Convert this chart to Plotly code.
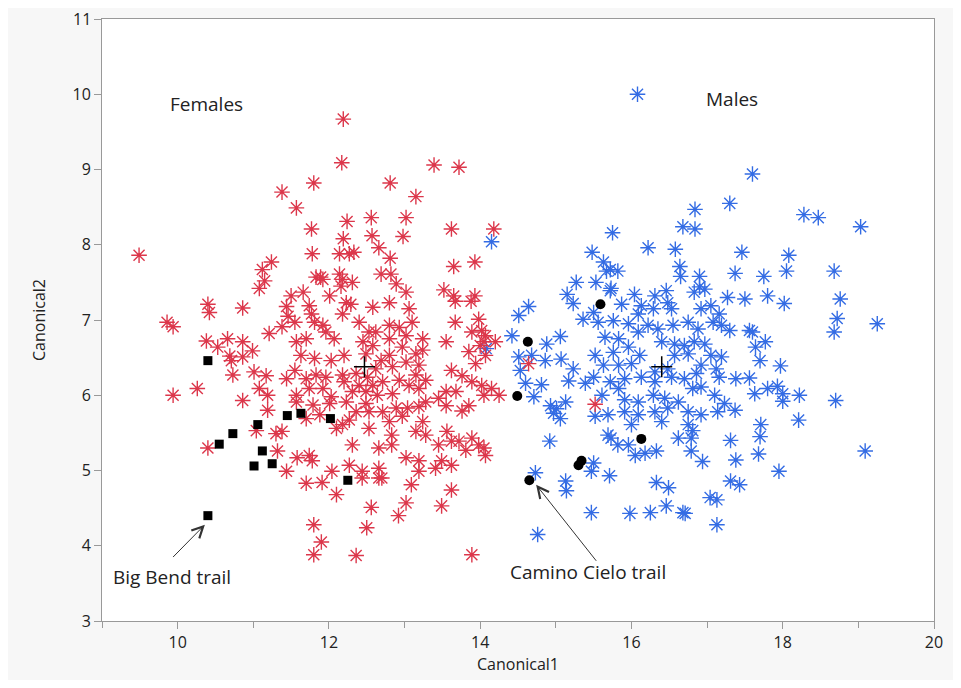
import plotly.graph_objects as go

# Females (red asterisks)
female_x = [11.38, 11.80, 11.57, 11.77, 11.78, 11.83, 9.49, 11.24, 11.12, 11.15, 11.08, 10.40, 10.86,
            12.19, 12.17, 12.81, 13.39, 13.72, 13.15, 12.24, 12.56, 13.02, 13.62, 14.18, 12.19, 12.57, 12.98,
            12.66, 12.14, 12.27, 12.33, 12.81, 13.65, 13.93, 11.89, 11.92, 12.14, 12.18, 12.31, 12.16, 12.69,
            12.82, 12.89, 13.52, 13.65, 13.93,
            10.42, 9.86, 9.94, 10.38, 10.66, 10.53, 10.86, 10.99, 10.69, 10.71, 10.86, 11.21, 11.38, 11.46,
            11.44, 10.73, 11.01, 11.17, 11.44, 9.94, 10.26, 10.86, 11.08, 11.19, 11.19, 11.04, 11.30, 11.38,
            10.40, 11.32, 11.58, 11.74, 11.78, 11.44, 11.70, 11.80, 11.90, 11.80,
            13.67, 13.88, 13.67, 13.98, 13.55, 13.89, 14.07, 13.85, 14.00, 14.20, 13.62, 13.76, 13.94, 14.07,
            13.55, 13.68, 13.89, 14.15, 13.45, 13.76, 13.85, 13.55, 12.83, 13.15, 13.28, 13.56, 13.62, 13.72,
            13.89, 13.98, 12.31, 12.66, 12.83, 13.02, 13.45, 13.81, 14.07, 12.04, 12.27, 12.44, 12.66, 12.70,
            13.19, 13.19, 13.41, 13.49, 13.62, 11.91, 12.10, 12.44, 12.66, 13.09, 13.62, 12.56, 12.92, 13.02,
            13.49, 12.50, 12.36, 13.89, 12.10, 12.53,
            14.02, 14.05, 14.02, 14.25, 14.05, 14.05, 14.64, 15.52,
            11.50, 11.66, 12.01, 12.23, 12.29, 12.58, 12.80, 13.02, 13.06, 11.74, 11.77, 11.55, 11.81, 11.92,
            11.96, 12.07, 11.70, 11.57, 12.18, 12.40, 12.53, 12.62, 12.80, 12.93, 13.10, 13.02, 13.24, 12.45,
            12.58, 12.80, 12.97, 13.15, 13.24, 11.63, 11.81, 12.03, 12.20, 12.49, 12.69, 12.80, 12.62, 12.84,
            13.02, 13.19, 11.55, 11.70, 11.83, 11.96, 12.18, 12.20, 12.36, 12.51, 12.40, 12.58, 12.71, 12.93,
            13.15, 13.28, 11.57, 11.74, 11.92, 12.03, 12.31, 12.49, 12.64, 12.84, 13.06, 13.19, 11.57, 11.79,
            12.01, 12.23, 12.49, 12.53, 12.36, 12.27, 12.71, 12.89, 13.04, 13.19, 13.28, 11.70, 11.88, 12.18,
            12.80, 12.97, 13.24]
female_y = [8.70, 8.82, 8.49, 8.21, 7.88, 7.57, 7.86, 7.77, 7.67, 7.52, 7.42, 7.21, 7.16,
            9.67, 9.09, 8.82, 9.06, 9.03, 8.64, 8.31, 8.36, 8.36, 8.21, 8.21, 8.08, 8.12, 8.11,
            7.96, 7.88, 7.88, 7.90, 7.82, 7.71, 7.77, 7.57, 7.54, 7.61, 7.54, 7.50, 7.45, 7.61,
            7.61, 7.48, 7.40, 7.32, 7.32,
            7.10, 6.97, 6.91, 6.72, 6.75, 6.64, 6.71, 6.59, 6.52, 6.46, 6.51, 6.82, 6.91, 7.05,
            7.18, 6.27, 6.31, 6.26, 6.22, 6.00, 6.09, 5.93, 6.09, 6.00, 5.80, 5.53, 5.49, 5.52,
            5.30, 5.26, 5.17, 5.20, 5.13, 4.99, 4.83, 4.28, 4.05, 3.88,
            7.25, 7.25, 6.97, 7.01, 6.71, 6.84, 6.79, 6.58, 6.66, 6.71, 6.33, 6.26, 6.42, 6.53,
            6.05, 6.05, 6.18, 6.09, 5.96, 5.79, 5.86, 5.86, 5.47, 5.52, 5.47, 5.52, 5.39, 5.39,
            5.43, 5.34, 5.34, 5.30, 5.34, 5.17, 5.34, 5.27, 5.20, 4.99, 5.07, 4.99, 5.03, 4.90,
            5.13, 4.99, 5.03, 5.13, 5.07, 4.84, 4.68, 4.90, 4.90, 4.81, 4.74, 4.51, 4.40, 4.57,
            4.53, 4.24, 3.87, 3.88, 5.56, 5.56,
            6.86, 6.71, 6.13, 6.00, 6.00, 5.30, 6.42, 5.88,
            7.32, 7.37, 7.32, 7.23, 7.21, 7.17, 7.23, 7.37, 7.15, 7.19, 7.08, 6.97, 6.97, 6.93,
            6.84, 6.75, 6.75, 6.71, 7.08, 6.97, 6.84, 6.84, 6.93, 6.90, 6.97, 6.79, 6.75, 6.71,
            6.66, 6.75, 6.64, 6.55, 6.60, 6.53, 6.49, 6.46, 6.53, 6.55, 6.46, 6.53, 6.35, 6.38,
            6.44, 6.40, 6.33, 6.22, 6.27, 6.24, 6.27, 6.18, 6.29, 6.24, 6.13, 6.13, 6.18, 6.20,
            6.27, 6.20, 6.00, 6.09, 6.09, 5.98, 6.05, 6.05, 6.00, 6.02, 6.13, 6.09, 5.91, 5.87,
            5.89, 5.91, 5.89, 5.78, 5.78, 5.67, 5.78, 5.83, 5.83, 5.85, 5.91, 5.69, 5.74, 5.61,
            5.65, 5.72, 5.65]

# Males (blue asterisks)
male_x = [16.08, 14.15, 15.75, 15.48, 16.22, 16.58, 16.68, 15.63, 15.72, 15.82, 15.67, 16.64, 16.65, 15.27,
          15.53, 15.73, 15.15, 14.64, 15.23,
          17.60, 17.30, 16.84, 16.84, 18.28, 18.47, 19.03, 17.46, 18.08, 16.90, 16.90, 17.37, 17.75, 18.05,
          18.68, 17.27, 17.50, 17.80, 18.02, 18.76,
          14.51, 14.42, 14.88, 15.06, 14.51, 14.68, 14.86, 15.07, 14.53, 15.23, 14.60, 14.81, 15.17, 15.39,
          14.71, 14.93, 15.01, 15.13, 14.97, 15.06, 15.73, 15.82, 15.96, 16.05, 16.18, 16.33, 14.92, 15.50,
          15.47, 15.71, 14.73, 15.13, 15.14, 16.33, 16.49, 16.46, 16.68, 15.47, 15.98, 16.25, 14.76, 15.36,
          15.69,
          18.72, 18.68, 19.25, 17.30, 17.56, 17.60, 17.64, 17.77, 17.70, 17.97, 17.38, 17.56, 17.63, 17.80,
          17.93, 18.00, 18.00, 18.22, 18.70, 17.37, 16.81, 16.79, 16.62, 17.71, 17.70, 18.21, 17.31, 16.79,
          16.94, 17.38, 17.68, 19.09, 17.95, 17.31, 17.43, 17.04, 17.13, 16.71, 17.13,
          14.08,
          15.72, 16.04, 16.31, 16.48, 16.46, 16.83, 16.97, 15.87, 16.13, 16.09, 16.29, 16.53, 16.92, 17.05,
          17.16, 15.50, 15.56, 15.76, 15.96, 16.09, 16.22, 16.35, 16.55, 16.75, 16.88, 17.08, 17.19, 15.65,
          15.83, 15.76, 15.96, 16.11, 16.40, 16.57, 16.70, 16.83, 16.97, 17.05, 17.19, 15.52, 15.63, 15.83,
          16.00, 16.31, 16.48, 16.57, 16.75, 16.92, 17.12, 15.50, 15.72, 15.91, 16.13, 16.31, 16.53, 16.70,
          16.86, 17.16, 15.61, 15.83, 15.91, 16.09, 16.29, 16.44, 16.62, 16.81, 16.92, 17.10, 17.23, 15.52,
          15.69, 15.91, 16.09, 16.31, 16.48, 16.75, 16.92, 17.14, 16.00, 16.40, 16.75]
male_y = [10.00, 8.04, 8.16, 7.90, 7.96, 7.94, 8.24, 7.77, 7.67, 7.65, 7.65, 7.71, 7.58, 7.50,
          7.50, 7.42, 7.34, 7.18, 7.22,
          8.94, 8.55, 8.47, 8.21, 8.40, 8.36, 8.24, 7.90, 7.86, 7.58, 7.44, 7.62, 7.58, 7.65,
          7.65, 7.30, 7.28, 7.32, 7.22, 7.28,
          7.06, 6.79, 6.68, 6.78, 6.51, 6.53, 6.46, 6.48, 6.33, 6.35, 6.16, 6.14, 6.19, 6.16,
          5.98, 5.86, 5.82, 5.91, 5.76, 5.69, 5.43, 5.34, 5.34, 5.20, 5.23, 5.26, 5.39, 5.10,
          4.99, 4.93, 4.97, 4.86, 4.73, 4.84, 4.77, 4.53, 4.44, 4.44, 4.43, 4.44, 4.15, 7.01,
          5.47,
          7.02, 6.84, 6.95, 6.86, 6.86, 6.84, 6.64, 6.71, 6.46, 6.39, 6.22, 6.23, 6.02, 6.09,
          6.12, 6.02, 5.92, 6.00, 5.93, 5.80, 5.53, 5.43, 5.43, 5.61, 5.45, 5.67, 5.40, 5.26,
          5.12, 5.14, 5.22, 5.26, 4.99, 4.86, 4.81, 4.64, 4.61, 4.43, 4.28,
          6.62,
          7.39, 7.34, 7.32, 7.23, 7.39, 7.37, 7.41, 7.21, 7.19, 7.08, 7.15, 7.15, 7.15, 7.19,
          7.08, 7.10, 6.97, 6.99, 6.95, 6.84, 6.93, 6.88, 6.93, 6.97, 6.88, 6.97, 6.93, 6.77,
          6.75, 6.57, 6.64, 6.53, 6.71, 6.68, 6.66, 6.71, 6.68, 6.53, 6.51, 6.53, 6.40, 6.40,
          6.42, 6.31, 6.35, 6.53, 6.55, 6.40, 6.35, 6.24, 6.18, 6.22, 6.24, 6.18, 6.24, 6.22,
          6.29, 6.24, 6.00, 6.09, 5.94, 5.91, 6.00, 5.96, 5.91, 6.09, 6.11, 6.00, 5.89, 5.72,
          5.74, 5.78, 5.74, 5.78, 5.83, 5.78, 5.74, 5.78, 5.61, 5.65, 5.61]

# Big Bend trail (black squares)
bigbend_x = [10.40, 11.45, 11.63, 11.06, 10.73, 10.55, 11.12, 11.01, 11.25, 10.40, 12.02, 12.25]
bigbend_y = [6.46, 5.73, 5.76, 5.61, 5.49, 5.35, 5.26, 5.06, 5.09, 4.40, 5.69, 4.87]

# Camino Cielo trail (black circles)
camino_x = [15.59, 14.63, 14.49, 16.13, 15.34, 15.30, 14.65]
camino_y = [7.21, 6.71, 5.99, 5.42, 5.13, 5.07, 4.87]

# group means
centroid_x = [12.47, 16.40]
centroid_y = [6.38, 6.38]

# axis ticks
x_major_ticks = [10, 12, 14, 16, 18, 20]
x_minor_ticks = [9, 11, 13, 15, 17, 19]
y_ticks = [3, 4, 5, 6, 7, 8, 9, 10, 11]

RED = "rgb(220,55,75)"
BLUE = "rgb(52,108,228)"

fig = go.Figure()
fig.add_trace(go.Scatter(x=male_x, y=male_y, mode="markers",
                         marker=dict(symbol="asterisk-open", size=13, color=BLUE,
                                     line=dict(color=BLUE, width=1.4)),
                         showlegend=False, hoverinfo="skip"))
fig.add_trace(go.Scatter(x=female_x, y=female_y, mode="markers",
                         marker=dict(symbol="asterisk-open", size=13, color=RED,
                                     line=dict(color=RED, width=1.4)),
                         showlegend=False, hoverinfo="skip"))
fig.add_trace(go.Scatter(x=bigbend_x, y=bigbend_y, mode="markers",
                         marker=dict(symbol="square", size=9, color="black"),
                         showlegend=False, hoverinfo="skip"))
fig.add_trace(go.Scatter(x=camino_x, y=camino_y, mode="markers",
                         marker=dict(symbol="circle", size=10, color="black"),
                         showlegend=False, hoverinfo="skip"))
fig.add_trace(go.Scatter(x=centroid_x, y=centroid_y, mode="markers",
                         marker=dict(symbol="cross-thin-open", size=15, color="black",
                                     line=dict(color="black", width=1.5)),
                         showlegend=False, hoverinfo="skip"))

txt = dict(family="Open Sans, Noto Sans, sans-serif", size=19, color="#222")
fig.add_annotation(x=10.38, y=9.87, text="Females", showarrow=False, font=txt)
fig.add_annotation(x=17.33, y=9.94, text="Males", showarrow=False, font=txt)
fig.add_annotation(x=9.92, y=3.58, text="Big Bend trail", showarrow=False, font=txt)
fig.add_annotation(x=15.43, y=3.65, text="Camino Cielo trail", showarrow=False, font=txt)
fig.add_annotation(x=10.36, y=4.28, ax=9.92, ay=3.83, xref="x", yref="y", axref="x", ayref="y",
                   text="", showarrow=True, arrowhead=5, arrowsize=2.2, arrowwidth=1, arrowcolor="#333")
fig.add_annotation(x=14.74, y=4.81, ax=15.55, ay=3.78, xref="x", yref="y", axref="x", ayref="y",
                   text="", showarrow=True, arrowhead=5, arrowsize=2.2, arrowwidth=1, arrowcolor="#333")

axfont = dict(family="Open Sans, Noto Sans, sans-serif", size=16, color="#222")

# topmost y tick label (would be hidden at the paper edge), drawn as text beside its tick
top_tick = y_ticks[-1]
fig.add_annotation(xref="paper", x=0, yref="y", y=top_tick, text=str(top_tick), showarrow=False,
                   xanchor="right", yanchor="middle", xshift=-9, font=axfont)

fig.update_xaxes(range=[9, 20], tickvals=x_major_ticks, ticks="outside", ticklen=7,
                 tickcolor="#999", showline=True, linecolor="#999", linewidth=1, mirror=True,
                 showgrid=False, zeroline=False, tickfont=axfont,
                 minor=dict(tickvals=x_minor_ticks, ticks="outside", ticklen=6, tickcolor="#999"),
                 title=dict(text="Canonical1", font=axfont, standoff=6))
fig.update_yaxes(range=[3, 11], tickvals=y_ticks[:-1], ticks="outside", ticklen=7, tickcolor="#999",
                 showline=True, linecolor="#999", linewidth=1, mirror=True,
                 showgrid=False, zeroline=False, tickfont=axfont,
                 minor=dict(tickvals=[top_tick], ticks="outside", ticklen=7, tickcolor="#999"),
                 title=dict(text="Canonical2", font=axfont, standoff=22))
fig.update_layout(width=945, height=672, margin=dict(l=94, r=16, t=10, b=56),
                  paper_bgcolor="#f7f7f7", plot_bgcolor="white")
fig.write_html("out.html")
